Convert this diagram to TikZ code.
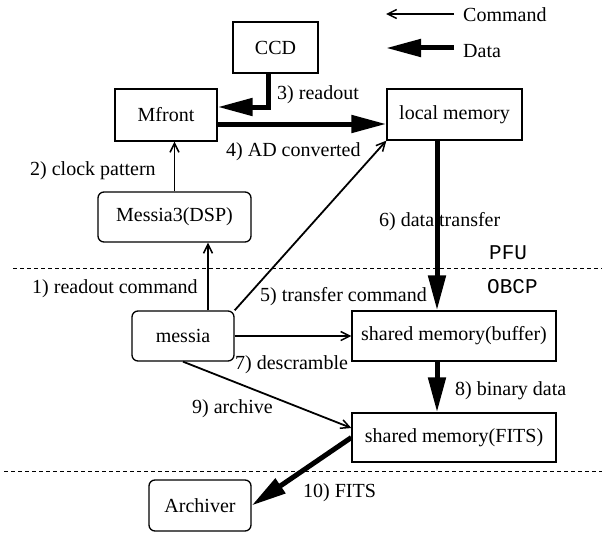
\documentclass[tikz,border=0pt]{standalone}
\usepackage{fontspec}
\setmainfont{Liberation Serif}
\setmonofont{Liberation Mono}
\usetikzlibrary{arrows.meta}
\begin{document}
\begin{tikzpicture}[x=1pt,y=-1pt,
  font=\fontsize{20}{24}\selectfont,
  box/.style={draw, line width=1.3pt, inner sep=0pt, minimum height=51pt},
  rbox/.style={box, rounded corners=6pt},
  cmd/.style={line width=1.8pt, -{Straight Barb[length=9pt,width=9pt,line width=1.5pt]}},
  data/.style={line width=5pt, -{Triangle[length=35pt,width=17pt]}},
  lbl/.style={anchor=base west, inner sep=0pt},
  mono/.style={font=\ttfamily\fontsize{21}{24}\selectfont},
  sep/.style={dash pattern=on 4pt off 3pt, line width=1pt}]
\useasboundingbox (0,0) rectangle (602,535);

% boxes
\node[box, minimum width=85pt] (ccd) at (275.5,47.5) {CCD};
\node[box, minimum width=102pt, minimum height=52pt] (mfront) at (166,115) {Mfront};
\node[box, minimum width=135pt] (local) at (454.5,114.5) {local memory};
\node[rbox, minimum width=153pt, minimum height=50pt] (dsp) at (174.5,217) {Messia3(DSP)};
\node[rbox, minimum width=102pt, minimum height=50pt] (messia) at (183,336) {messia};
\node[box, minimum width=204pt, minimum height=50pt] (buffer) at (454,336) {shared memory(buffer)};
\node[box, minimum width=204pt, minimum height=49pt] (fits) at (454,437.5) {shared memory(FITS)};
\node[rbox, minimum width=102pt] (arch) at (200,505.5) {Archiver};

% connectors
\draw[data] ([xshift=-7.5pt]ccd.south) |- ([yshift=8pt]mfront.east);
\draw[data] ([yshift=-9pt]mfront.east) -- ([yshift=-9.5pt]local.west);
\draw[cmd] (dsp.north) -- (dsp.north |- mfront.south);
\draw[cmd] ([xshift=25pt]messia.north) -- ([xshift=25pt]messia.north |- dsp.south);
\draw[cmd] (messia.north east) -- (local.south west);
\draw[data] ([xshift=-17.5pt]local.south) -- ([xshift=-17.5pt]local.south |- buffer.north);
\draw[cmd] (messia.east) -- (buffer.west);
\draw[data] ([xshift=-17pt]buffer.south) -- ([xshift=-17pt]fits.north);
\draw[cmd] (messia.south) -- ([yshift=9.5pt]fits.west);
\draw[data] (fits.west) -- (arch.east);

% labels
\node[lbl] (l3) at (277,99) {3) readout};
\node[lbl] (l4) at (226,156) {4) AD converted};
\node[lbl] (l2) at (30,175) {2) clock pattern};
\node[lbl] (l6) at (379,226) {6) data transfer};
\node[lbl] (l1) at (32,293) {1) readout command};
\node[lbl] (l5) at (260,301) {5) transfer command};
\node[lbl] (l7) at (235,369) {7) descramble};
\node[lbl] (l8) at (455,395) {8) binary data};
\node[lbl] (l9) at (192,413) {9) archive};
\node[lbl] (l10) at (303,497) {10) FITS};
\node[lbl, mono] (pfu) at (489,259) {PFU};
\node[lbl, mono] (obcp) at (487,293) {OBCP};

% legend
\node[lbl] (lc) at (463,22) {Command};
\node[lbl] (ld) at (463,57) {Data};
\coordinate (ce) at (386,14);
\coordinate (de) at (386,48);
\draw[cmd] ([xshift=-9pt]lc.west |- ce) -- (ce);
\draw[data] ([xshift=-9pt]ld.west |- de) -- (de);

% separators
\draw[sep] (13,268) -- (602,268);
\draw[sep] (4,471) -- (602,471);
\end{tikzpicture}
\end{document}
